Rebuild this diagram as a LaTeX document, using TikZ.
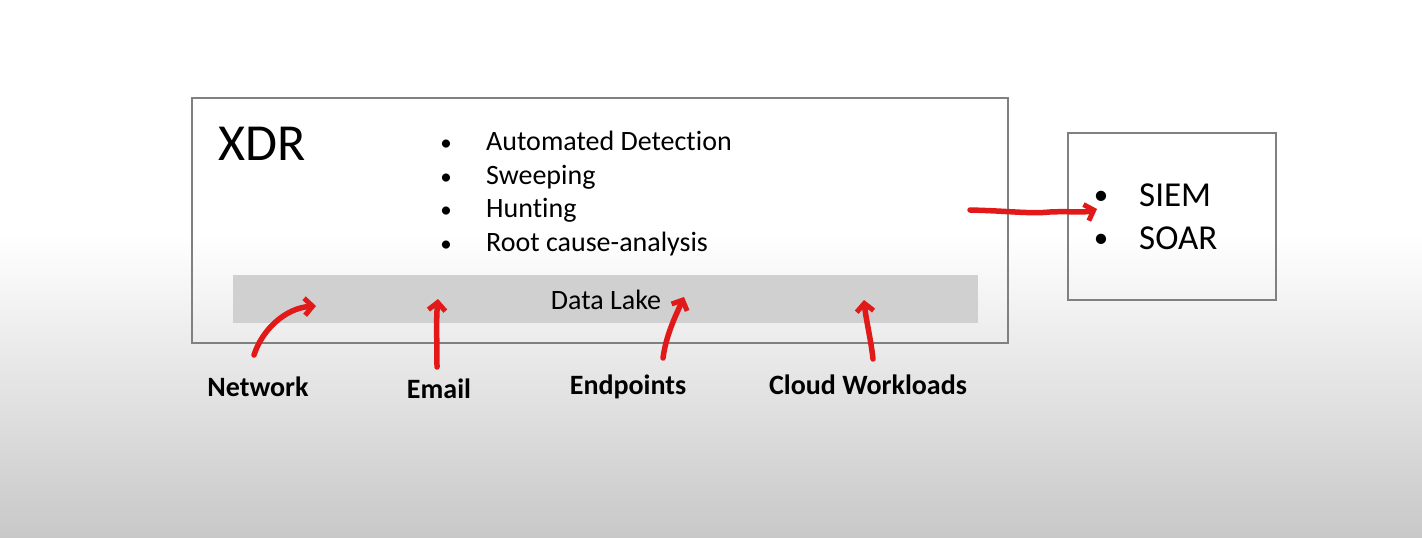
\documentclass[tikz,border=0pt]{standalone}
\usepackage{fontspec}
\setmainfont{Carlito}[Ligatures=NoCommon]
\usetikzlibrary{arrows.meta}
\definecolor{frame}{RGB}{128,128,128}
\definecolor{lake}{RGB}{208,208,208}
\definecolor{ink}{RGB}{225,25,25}
\begin{document}
\begin{tikzpicture}[x=1pt,y=-1pt,
  boxframe/.style={draw=frame,line width=1.8pt},
  bullettext/.style={anchor=base west,inner sep=0pt,font=\fontsize{28}{32}\selectfont},
  dot/.style={anchor=base,inner sep=0pt,font=\fontsize{23}{32}\selectfont},
  bigtext/.style={anchor=base west,inner sep=0pt,font=\fontsize{35}{40}\selectfont},
  bigdot/.style={anchor=base,inner sep=0pt,font=\fontsize{29}{40}\selectfont},
  source/.style={anchor=base,inner sep=0pt,font=\bfseries\fontsize{28}{32}\selectfont},
  pen/.style={draw=ink,line width=5.5pt,line cap=round,line join=round,
    -{Straight Barb[length=8pt,width=17pt,line width=5pt]}}]
  % page and soft vertical fade
  \useasboundingbox (0,0) rectangle (1422,538);
  \fill[white] (0,0) rectangle (1422,538);
  \shade[top color=white,bottom color={rgb,255:red,200;green,200;blue,200}]
    (0,235) rectangle (1422,538);

  % XDR frame with data lake
  \node[boxframe,minimum width=816pt,minimum height=245pt,inner sep=0pt,anchor=north west]
    (xdr) at (191,97) {};
  \node[fill=lake,minimum width=745pt,minimum height=48pt,inner sep=0pt,anchor=north west]
    (lake) at (233,275) {};
  \node[anchor=base,inner sep=0pt,font=\fontsize{28}{32}\selectfont] (laketext) at (606,309) {Data Lake};
  \node[anchor=base west,inner sep=0pt,font=\fontsize{52}{60}\selectfont] (xdrtitle) at (218,160) {XDR};

  % capability list
  \foreach \y/\t/\n in {150/Automated Detection/a,184/Sweeping/b,217/Hunting/c,251/Root cause-analysis/d}{
    \node[dot] (dot\n) at (446,\y) {•};
    \node[bullettext] (cap\n) at (486,\y) {\t};
  }

  % downstream tools
  \node[boxframe,minimum width=208pt,minimum height=167pt,inner sep=0pt,anchor=north west]
    (tools) at (1067,132) {};
  \node[bigdot] (dotsiem) at (1101,204) {•};
  \node[bigtext] (siem) at (1139,206) {SIEM};
  \node[bigdot] (dotsoar) at (1101,247) {•};
  \node[bigtext] (soar) at (1139,249) {SOAR};

  % telemetry sources
  \node[source] (net) at (258,396) {Network};
  \node[source] (mail) at (439,398) {Email};
  \node[source] (endp) at (628,394) {Endpoints};
  \node[source] (cloud) at (868,394) {Cloud Workloads};

  % hand-drawn feeds into the lake
  \coordinate (netTail) at (254,355);
  \coordinate (netHead) at (316,306);
  \coordinate (mailTail) at (437,367);
  \coordinate (mailHead) at (438,299);
  \coordinate (endpTail) at (663,358);
  \coordinate (endpHead) at (684,297);
  \coordinate (cloudTail) at (873,359);
  \coordinate (cloudHead) at (864,300);
  \coordinate (outTail) at (970,210);
  \coordinate (outHead) at (1097,209);

  \draw[pen] (netTail) .. controls (262,330) and (285,308) .. (netHead);
  \draw[pen] (mailTail) .. controls (437,340) and (436,320) .. (mailHead);
  \draw[pen] (endpTail) .. controls (666,335) and (676,315) .. (endpHead);
  \draw[pen] (cloudTail) .. controls (871,340) and (866,320) .. (cloudHead);
  \draw[pen] (outTail) .. controls (1010,211) and (1030,214) .. (1050,212)
    .. controls (1070,211) and (1085,213) .. (outHead);
\end{tikzpicture}
\end{document}
